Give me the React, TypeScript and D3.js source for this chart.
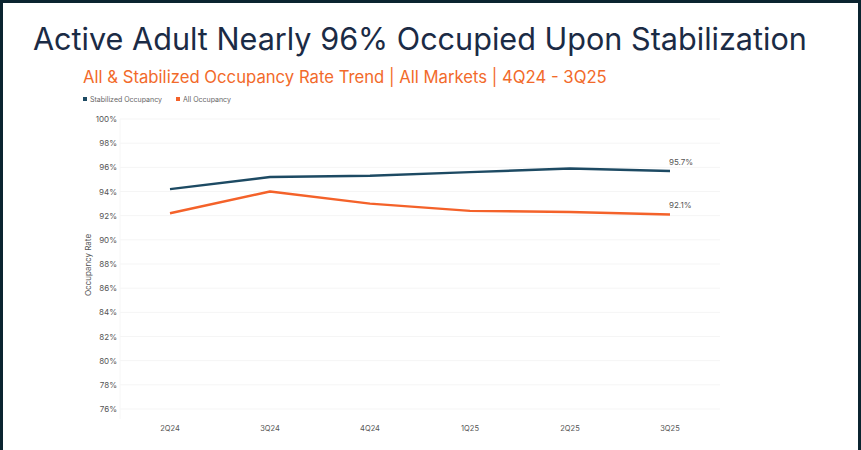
import React from "react";
import * as d3 from "d3";

const quarters = ["2Q24", "3Q24", "4Q24", "1Q25", "2Q25", "3Q25"];
const stabilized = [94.2, 95.2, 95.3, 95.6, 95.9, 95.7];
const allOcc = [92.2, 94.0, 93.0, 92.4, 92.3, 92.1];
const yTicks = [76, 78, 80, 82, 84, 86, 88, 90, 92, 94, 96, 98, 100];

const W = 861;
const H = 450;

export default function App() {
  const x = d3.scaleBand<string>().domain(quarters).range([120, 720]);
  const y = d3.scaleLinear().domain([76, 100]).range([409, 119]);
  const cx = (q: string) => (x(q) as number) + x.bandwidth() / 2;
  const line = d3
    .line<number>()
    .x((_, i) => cx(quarters[i]))
    .y((d) => y(d));

  const series = [
    { name: "Stabilized Occupancy", data: stabilized, color: "#1d4a63" },
    { name: "All Occupancy", data: allOcc, color: "#f4622a" },
  ];
  const font = "Inter, 'Noto Sans', sans-serif";

  return (
    <svg
      width={W}
      height={H}
      style={{ position: "absolute", left: 0, top: 0, display: "block" }}
      fontFamily={font}
    >
      <rect x={0} y={0} width={W} height={H} fill="#0b2430" />
      <rect x={3} y={3} width={W - 6} height={H - 3} fill="#ffffff" />
      <text x={33} y={50} fontSize={30.6} fill="#1b2b45" fontWeight={400}>
        Active Adult Nearly 96% Occupied Upon Stabilization
      </text>
      <text x={83} y={83} fontSize={16.7} fill="#f26a2a">
        All &amp; Stabilized Occupancy Rate Trend | All Markets | 4Q24 - 3Q25
      </text>
      {/* legend */}
      <rect x={83} y={97} width={4} height={4} fill={series[0].color} />
      <text x={90} y={101.5} fontSize={7} fill="#666">
        Stabilized Occupancy
      </text>
      <rect x={176} y={97} width={4} height={4} fill={series[1].color} />
      <text x={183} y={101.5} fontSize={7} fill="#666">
        All Occupancy
      </text>
      {/* grid */}
      {yTicks.map((t) => (
        <g key={t}>
          <line x1={120} x2={720} y1={y(t)} y2={y(t)} stroke="#f5f5f5" strokeWidth={1} />
          <text x={117} y={y(t) + 3} fontSize={8} fill="#555" textAnchor="end">
            {t}%
          </text>
        </g>
      ))}
      <line x1={120} x2={120} y1={y(100)} y2={y(76) + 10} stroke="#f6f6f6" />
      <text
        transform={`translate(91,${(y(100) + y(76)) / 2 + 1}) rotate(-90)`}
        fontSize={8}
        fill="#555"
        textAnchor="middle"
      >
        Occupancy Rate
      </text>
      {quarters.map((q) => (
        <text key={q} x={cx(q)} y={431} fontSize={7.5} fill="#555" textAnchor="middle">
          {q}
        </text>
      ))}
      {series.map((s) => {
        const last = s.data[s.data.length - 1];
        return (
          <g key={s.name}>
            <path d={line(s.data) || ""} fill="none" stroke={s.color} strokeWidth={2.4} strokeLinejoin="round" />
            <text
              x={cx(quarters[quarters.length - 1]) - 1}
              y={y(last) - 6}
              fontSize={8}
              fill="#555"
            >
              {last.toFixed(1)}%
            </text>
          </g>
        );
      })}
    </svg>
  );
}
